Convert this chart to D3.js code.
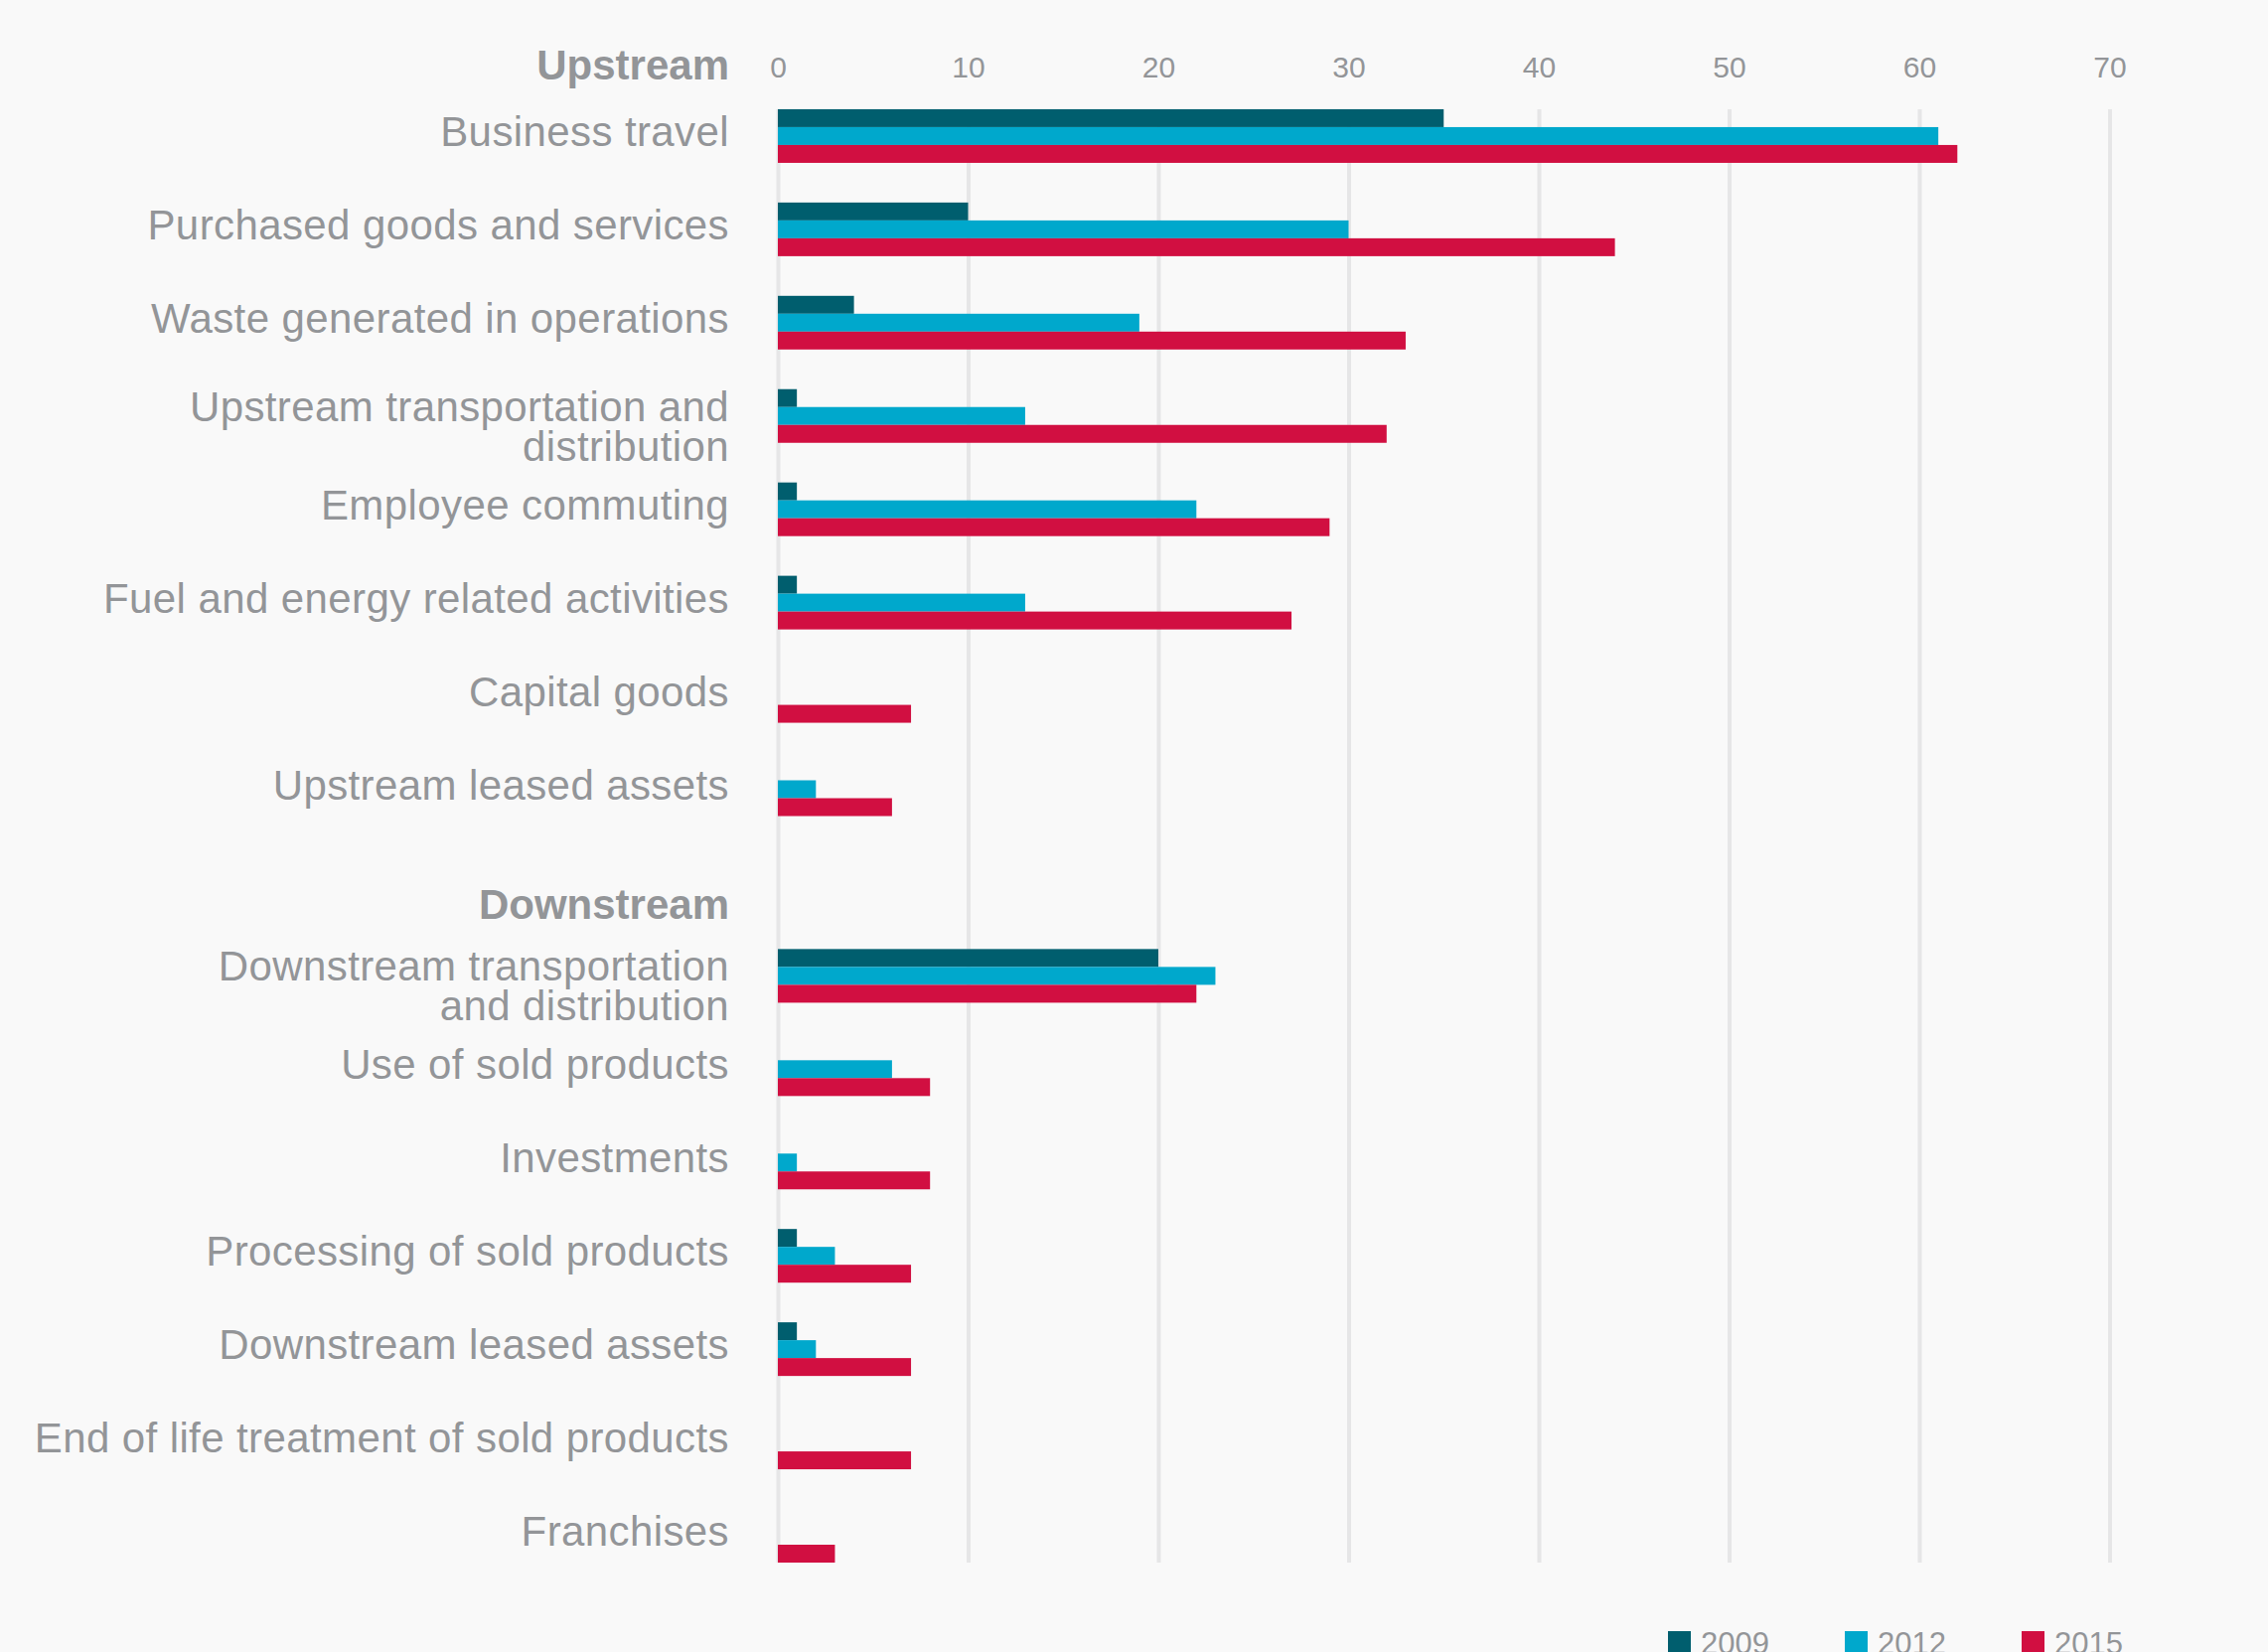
<!DOCTYPE html>
<html>
<head>
<meta charset="utf-8">
<script src="https://cdn.jsdelivr.net/npm/d3@7"></script>
<style>
  html, body { margin: 0; padding: 0; background: #f9f9f9; }
  svg { display: block; }
  text { font-family: "Liberation Sans", Arial, Helvetica, sans-serif; fill: #939598; }
</style>
</head>
<body>
<svg id="chart" width="2283" height="1663"></svg>
<script>
// Scope 3 emission categories, grouped into upstream and downstream sections
const upstreamCategories = [
  "Business travel",
  "Purchased goods and services",
  "Waste generated in operations",
  "Upstream transportation and\ndistribution",
  "Employee commuting",
  "Fuel and energy related activities",
  "Capital goods",
  "Upstream leased assets"
];
const downstreamCategories = [
  "Downstream transportation\nand distribution",
  "Use of sold products",
  "Investments",
  "Processing of sold products",
  "Downstream leased assets",
  "End of life treatment of sold products",
  "Franchises"
];
const sectionTitles = ["Upstream", "Downstream"];
const years = ["2009", "2012", "2015"];

// Values per year, upstream categories first, then downstream
const values2009 = [35, 10, 4, 1, 1, 1, 0, 0,   20, 0, 0, 1, 1, 0, 0];
const values2012 = [61, 30, 19, 13, 22, 13, 0, 2, 23, 6, 1, 3, 2, 0, 0];
const values2015 = [62, 44, 33, 32, 29, 27, 7, 6, 22, 8, 8, 7, 7, 7, 3];

const tickValues = [0, 10, 20, 30, 40, 50, 60, 70];
const colors = ["#005e6e", "#00a8cc", "#d10f41"];

// Row order: section title, its categories, next section title, its categories
const rows = [sectionTitles[0], ...upstreamCategories, sectionTitles[1], ...downstreamCategories];
const categories = [...upstreamCategories, ...downstreamCategories];
const seriesByYear = [values2009, values2012, values2015];
const data = categories.map((c, i) => ({
  category: c,
  values: years.map((yr, k) => ({ year: yr, value: seriesByYear[k][i] }))
}));

const svg = d3.select("#chart");

const x = d3.scaleLinear().domain([0, 70]).range([783, 2123.5]);
const y = d3.scaleBand().domain(rows).range([16, 1573]).paddingInner(0.425).paddingOuter(0);
const ySub = d3.scaleBand().domain(years).range([0, y.bandwidth()]);
const color = d3.scaleOrdinal().domain(years).range(colors);

const gridTop = y(categories[0]);
const gridBottom = y(categories[categories.length - 1]) + y.bandwidth();

// Axis along the top with grid lines running down through the bars
const axis = d3.axisTop(x)
  .tickValues(tickValues)
  .tickFormat(d3.format("d"))
  .tickSizeInner(-(gridBottom - gridTop))
  .tickSizeOuter(0)
  .tickPadding(32);

const axisG = svg.append("g")
  .attr("transform", `translate(0,${gridTop})`)
  .call(axis);
axisG.select(".domain").remove();
axisG.selectAll(".tick line")
  .attr("stroke", "#e6e6e7")
  .attr("stroke-width", 4);
axisG.selectAll(".tick text")
  .attr("font-size", 30)
  .attr("fill", "#939598")
  .style("font-family", "'Liberation Sans', Arial, sans-serif");

// Bars
const groups = svg.append("g").selectAll("g.cat")
  .data(data)
  .join("g")
  .attr("class", "cat")
  .attr("transform", d => `translate(0,${y(d.category)})`);

groups.selectAll("rect")
  .data(d => d.values.filter(v => v.value > 0))
  .join("rect")
  .attr("x", x(0))
  .attr("y", v => ySub(v.year))
  .attr("width", v => x(v.value) - x(0))
  .attr("height", ySub.bandwidth())
  .attr("fill", v => color(v.year));

// Category labels, right-aligned next to the bars
const labelX = 734;
const lineGap = 40;
const labels = svg.append("g").selectAll("text.cat-label")
  .data(categories)
  .join("text")
  .attr("class", "cat-label")
  .attr("text-anchor", "end")
  .attr("font-size", 42)
  .style("letter-spacing", "0.4px")
  .attr("x", labelX)
  .attr("y", d => {
    const n = d.split("\n").length;
    return y(d) + y.bandwidth() / 2 + 10 - (n - 1) * 5;
  });
labels.selectAll("tspan")
  .data(d => d.split("\n"))
  .join("tspan")
  .attr("x", labelX)
  .attr("dy", (t, i) => i === 0 ? 0 : lineGap)
  .text(t => t);

// Section titles
svg.append("g").selectAll("text.section")
  .data(sectionTitles)
  .join("text")
  .attr("class", "section")
  .attr("text-anchor", "end")
  .attr("font-size", 42)
  .attr("font-weight", "bold")
  .attr("x", labelX)
  .attr("y", d => y(d) + y.step() - 30)
  .text(d => d);

// Legend along the bottom
const legendX = d3.scalePoint().domain(years).range([1679, 2035]);
const legend = svg.append("g").selectAll("g.legend")
  .data(years)
  .join("g")
  .attr("class", "legend")
  .attr("transform", d => `translate(${legendX(d)},1642)`);
legend.append("rect")
  .attr("width", 23)
  .attr("height", 23)
  .attr("fill", d => color(d));
legend.append("text")
  .attr("x", 33)
  .attr("y", 23)
  .attr("font-size", 31)
  .text(d => d);
</script>
</body>
</html>
